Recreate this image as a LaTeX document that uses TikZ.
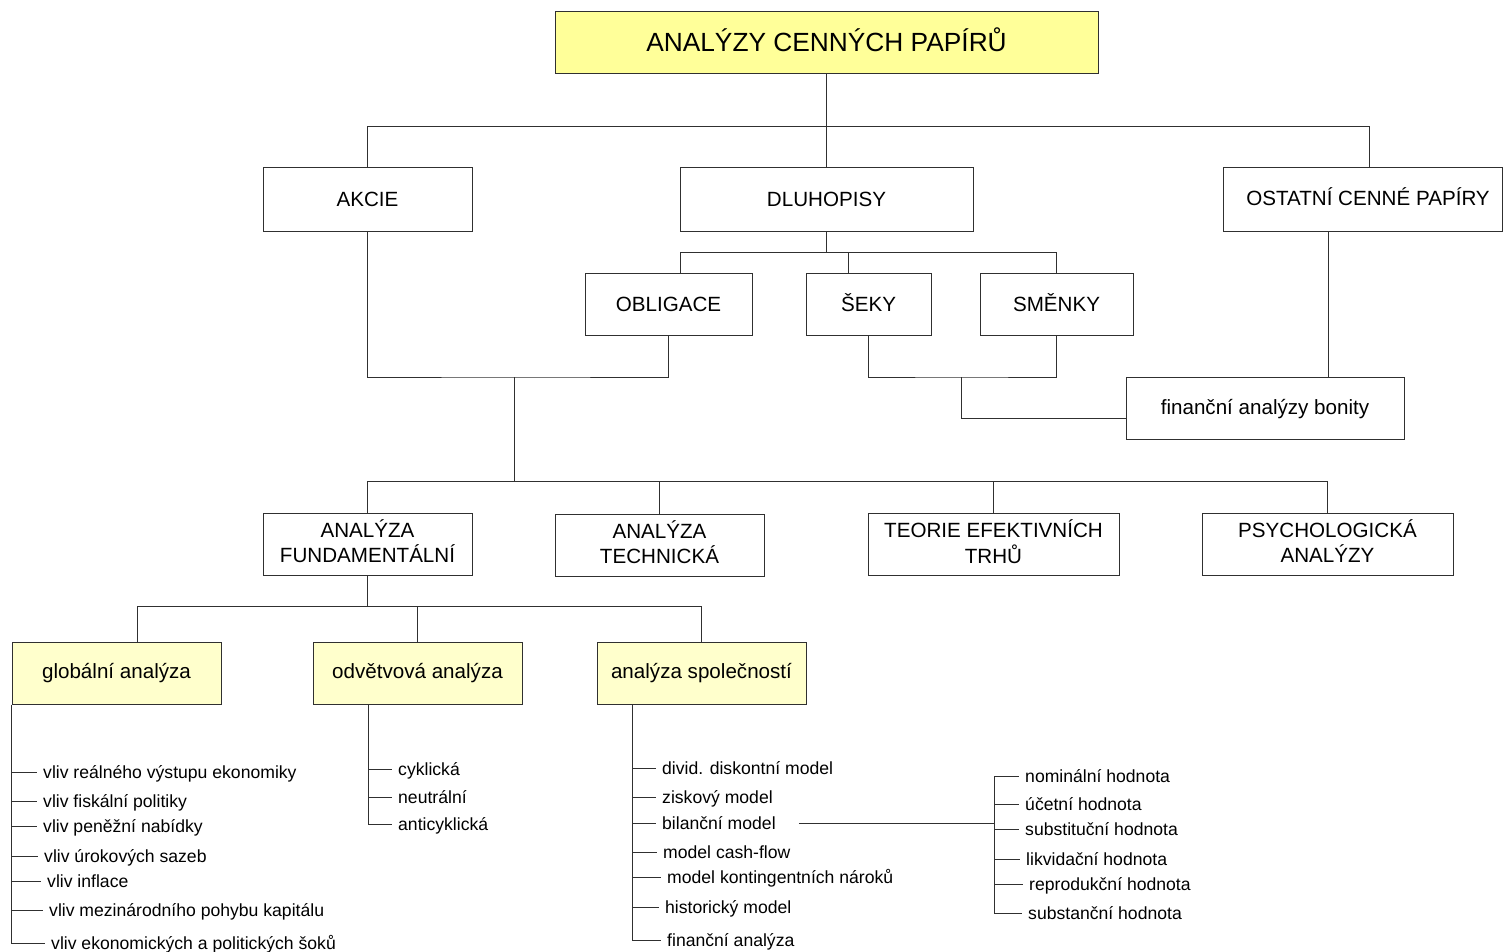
\documentclass[tikz,border=0pt]{standalone}
\usepackage{fontspec}
\setmainfont{Liberation Sans}
\definecolor{titleyellow}{HTML}{FFFF99}
\definecolor{paleyellow}{HTML}{FFFFCC}
\definecolor{linegray}{HTML}{303030}
\newcommand{\upby}[2]{\raisebox{#1}[\height][\depth]{#2}}
\newcommand{\twol}[2]{\upby{-1pt}{\begin{tabular}{@{}c@{}}#1\\#2\end{tabular}}}
\begin{document}
\begin{tikzpicture}[x=1pt,y=-1pt,
  conn/.style={draw=linegray,line width=1pt},
  box/.style={draw=linegray,line width=1pt,fill=white,align=center,inner sep=0pt,
    font=\fontsize{20.6}{25}\selectfont,minimum height=62pt},
  titlebox/.style={box,fill=titleyellow,font=\fontsize{26.3}{30}\selectfont},
  ybox/.style={box,fill=paleyellow},
  item/.style={anchor=west,inner xsep=6pt,inner ysep=0pt,text height=14pt,text depth=2pt,
    font=\fontsize{17.6}{21}\selectfont}
]
\useasboundingbox (0,0) rectangle (1503,952);

% ---- boxes
\node[titlebox,minimum width=543pt] (title) at (826.5,43) {\upby{3.5pt}{ANALÝZY CENNÝCH PAPÍRŮ}};
\node[box,minimum width=209pt,minimum height=63pt] (akcie) at (367.5,199.5) {AKCIE};
\node[box,minimum width=293pt,minimum height=63pt] (dluh) at (826.5,199.5) {DLUHOPISY};
\node[box,minimum width=279pt,minimum height=63pt] (ost) at (1362.5,199.5) {\upby{2.5pt}{\hspace*{11pt}OSTATNÍ CENNÉ PAPÍRY}};

\node[box,minimum width=167pt] (obl) at (668.5,304) {OBLIGACE};
\node[box,minimum width=125pt] (seky) at (868.5,304) {\upby{1pt}{ŠEKY}};
\node[box,minimum width=153pt] (smen) at (1056.5,304) {\upby{1pt}{SMĚNKY}};
\node[box,minimum width=278pt] (bon) at (1265,408) {\upby{-1.5pt}{finanční analýzy bonity}};

\node[box,minimum width=209pt] (fund) at (367.5,544) {\twol{ANALÝZA}{FUNDAMENTÁLNÍ}};
\node[box,minimum width=209pt] (tech) at (659.5,545) {\twol{ANALÝZA}{TECHNICKÁ}};
\node[box,minimum width=251pt] (teor) at (993.5,544) {\twol{TEORIE EFEKTIVNÍCH}{TRHŮ}};
\node[box,minimum width=251pt] (psy) at (1327.5,544) {\twol{PSYCHOLOGICKÁ}{ANALÝZY}};

\node[ybox,minimum width=209pt] (glob) at (116.5,673) {globální analýza};
\node[ybox,minimum width=209pt] (odv) at (417.5,673) {odvětvová analýza};
\node[ybox,minimum width=209pt] (spol) at (701.5,673) {analýza společností};

% ---- connectors, upper part
\coordinate (bus1) at (826.5,127);
\draw[conn] (title.south) -- (bus1);
\draw[conn] (akcie.north) |- (bus1);
\draw[conn] (dluh.north) -- (bus1);
\draw[conn] ([xshift=6.5pt]ost.north) |- (bus1);

\coordinate (bus2) at (826.5,252);
\draw[conn] (dluh.south) -- (bus2);
\draw[conn] ([xshift=11.5pt]obl.north) |- (bus2);
\draw[conn] ([xshift=-20.5pt]seky.north) |- (bus2);
\draw[conn] (smen.north) |- (bus2);

\coordinate (j1) at (514,377);
\draw[conn] (akcie.south) |- (j1) -| (obl.south);
\coordinate (j2) at (961,377);
\draw[conn] (seky.south) |- (j2) -| (smen.south);
\draw[conn] (j2) |- ([yshift=-10pt]bon.west);
\draw[conn] ([xshift=-34.5pt]ost.south) -- ([xshift=63pt]bon.north);

\coordinate (j3) at (514,481);
\draw[conn] (j1) -- (j3);
\draw[conn] (fund.north) |- (j3);
\draw[conn] (tech.north) |- (j3);
\draw[conn] (teor.north) |- (j3);
\draw[conn] (psy.north) |- (j3);

\coordinate (j4) at (367.5,606);
\draw[conn] (fund.south) -- (j4);
\draw[conn] ([xshift=20.5pt]glob.north) |- (j4);
\draw[conn] (odv.north) |- (j4);
\draw[conn] (spol.north) |- (j4);

% ---- global list
\node[item] (g1) at (37,772) {vliv reálného výstupu ekonomiky};
\node[item] (g2) at (37,801) {vliv fiskální politiky};
\node[item] (g3) at (37,826) {vliv peněžní nabídky};
\node[item] (g4) at (38,856) {vliv úrokových sazeb};
\node[item] (g5) at (41,881) {vliv inflace};
\node[item] (g6) at (43,910) {vliv mezinárodního pohybu kapitálu};
\node[item] (g7) at (45,943) {vliv ekonomických a politických šoků};
\draw[conn] (glob.south west) |- (g7.west);
\foreach \n in {g1,g2,g3,g4,g5,g6}
  \draw[conn] (\n.west -| glob.south west) -- (\n.west);

% ---- sector list
\coordinate (ov) at (368,704);
\node[item] (o1) at (392,769) {cyklická};
\node[item] (o2) at (392,797) {neutrální};
\node[item] (o3) at (392,824) {anticyklická};
\draw[conn] (ov) |- (o3.west);
\foreach \n in {o1,o2}
  \draw[conn] (\n.west -| ov) -- (\n.west);

% ---- company list
\coordinate (sv) at (632,704);
\node[item] (s1) at (656,768) {divid. diskontní model};
\node[item] (s2) at (656,797) {ziskový model};
\node[item] (s3) at (656,823) {bilanční model};
\node[item] (s4) at (657,852) {model cash-flow};
\node[item] (s5) at (661,877) {model kontingentních nároků};
\node[item] (s6) at (659,907) {historický model};
\node[item] (s7) at (661,940) {finanční analýza};
\draw[conn] (sv) |- (s7.west);
\foreach \n in {s1,s2,s3,s4,s5,s6}
  \draw[conn] (\n.west -| sv) -- (\n.west);

% ---- values list
\coordinate (hv) at (994,776);
\node[item] (h1) at (1019,776) {nominální hodnota};
\node[item] (h2) at (1019,804) {účetní hodnota};
\node[item] (h3) at (1019,829) {substituční hodnota};
\node[item] (h4) at (1020,859) {likvidační hodnota};
\node[item] (h5) at (1023,884) {reprodukční hodnota};
\node[item] (h6) at (1022,913) {substanční hodnota};
\draw[conn] (hv) |- (h6.west);
\foreach \n in {h2,h3,h4,h5}
  \draw[conn] (\n.west -| hv) -- (\n.west);
\draw[conn] (hv) -- (h1.west);
\draw[conn] ([xshift=17pt]s3.east) -- (s3.east -| hv);
\end{tikzpicture}
\end{document}
